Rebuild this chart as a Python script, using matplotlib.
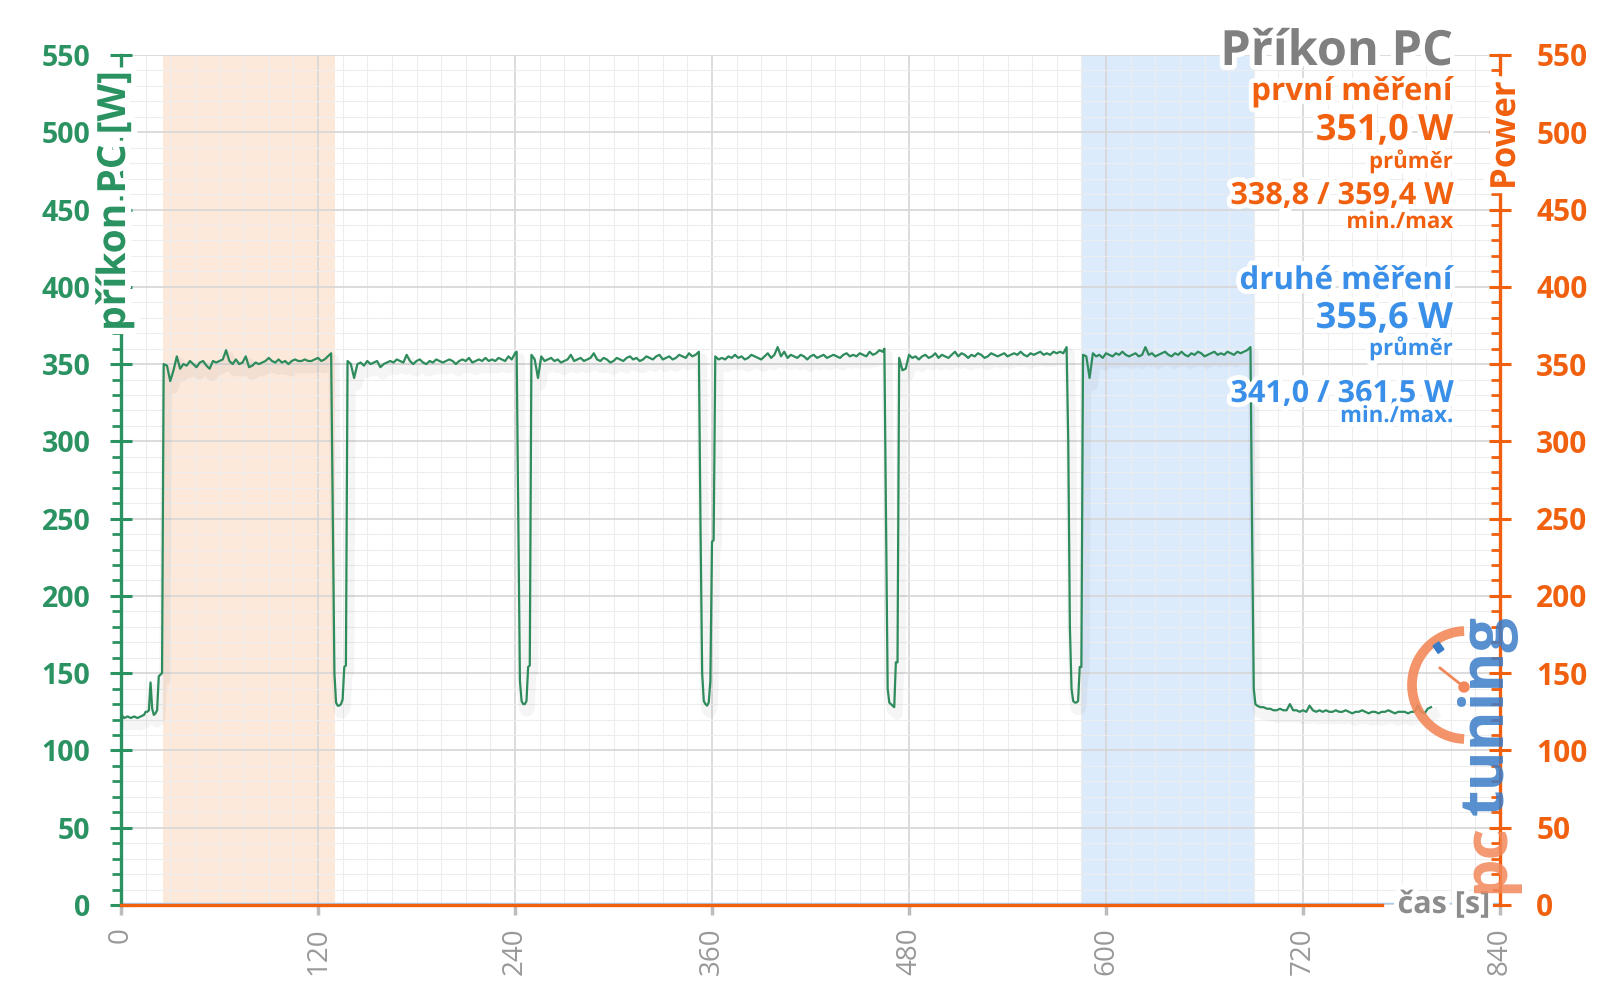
import numpy as np
import matplotlib.pyplot as plt
import matplotlib.patheffects as pe
from matplotlib.ticker import MultipleLocator
from matplotlib.patches import Arc, Circle, Rectangle

plt.rcParams['font.family'] = ['Open Sans', 'DejaVu Sans']

# --- data: power draw of the PC [W] over time [s] ---
# idle before the test
idle0_t = [0, 2, 4, 6, 8, 10, 12, 14, 15, 16, 17, 18, 19, 20, 21, 22, 23, 24, 25]
idle0_p = [123, 121, 122, 121, 122, 121, 122, 123, 125, 125, 126, 144, 127, 123, 124, 126, 148, 149, 150]

# load blocks, one sample every 2 s
block1_start = 26
block1_p = [350, 349, 339, 346, 355, 347, 350, 349, 352, 350,
            348, 351, 352, 349, 347, 352, 351, 352, 353, 359,
            352, 350, 353, 350, 351, 355, 348, 349, 351, 350,
            351, 352, 354, 352, 351, 353, 351, 352, 350, 352,
            353, 352, 352, 353, 352, 352, 353, 354, 352, 353,
            355, 357]
drop1_t = [129, 130, 131, 132, 133, 134, 135, 136, 137]
drop1_p = [250, 150, 131, 129, 129, 130, 133, 154, 155]

block2_start = 138
block2_p = [352, 350, 341, 350, 351, 349, 352, 350, 351, 352,
            348, 350, 351, 352, 351, 353, 352, 351, 356, 352,
            350, 352, 353, 351, 350, 352, 351, 353, 352, 351,
            352, 353, 352, 350, 352, 353, 352, 354, 351, 352,
            353, 352, 354, 352, 353, 352, 354, 353, 352, 355,
            353, 357]
drop2_t = [241, 242, 243, 244, 245, 246, 247, 248, 249]
drop2_p = [358, 250, 145, 132, 130, 130, 132, 154, 155]

block3_start = 250
block3_p = [356, 353, 341, 355, 352, 353, 354, 352, 353, 351,
            352, 353, 356, 352, 353, 354, 352, 353, 354, 357,
            353, 352, 354, 353, 351, 352, 354, 353, 352, 354,
            355, 353, 354, 352, 353, 355, 354, 353, 355, 356,
            353, 354, 355, 353, 354, 356, 355, 354, 357, 355,
            356, 358]
drop3_t = [353, 354, 355, 356, 357, 358, 359, 360, 361]
drop3_p = [245, 150, 132, 130, 129, 131, 145, 235, 236]

block4_start = 362
block4_p = [355, 353, 354, 353, 355, 354, 356, 354, 355, 353,
            354, 356, 355, 354, 353, 355, 357, 354, 356, 361,
            355, 358, 354, 356, 355, 354, 356, 355, 353, 355,
            356, 354, 355, 356, 354, 355, 356, 355, 354, 356,
            357, 355, 356, 355, 357, 356, 355, 358, 356, 357,
            359, 358]
drop4_t = [465, 466, 467, 468, 469, 470, 471, 472, 473]
drop4_p = [360, 250, 140, 131, 130, 129, 128, 157, 157]

block5_start = 474
block5_p = [354, 346, 347, 356, 354, 355, 353, 355, 356, 354,
            355, 357, 354, 356, 355, 354, 356, 358, 355, 357,
            356, 354, 356, 355, 357, 356, 354, 355, 357, 356,
            355, 356, 357, 355, 356, 357, 356, 358, 356, 355,
            357, 356, 357, 358, 356, 357, 356, 358, 357, 358,
            357, 361]
drop5_t = [577, 578, 579, 580, 581, 582, 583, 584, 585]
drop5_p = [300, 180, 140, 132, 131, 131, 132, 154, 154]

block6_start = 586
block6_p = [356, 355, 341, 357, 355, 356, 354, 357, 356, 355,
            357, 356, 358, 356, 355, 356, 357, 355, 356, 361,
            356, 357, 355, 356, 357, 358, 356, 355, 357, 356,
            358, 356, 355, 357, 356, 358, 357, 355, 356, 357,
            358, 356, 357, 356, 358, 357, 356, 358, 357, 358,
            359, 361]
drop6_t = [689, 690, 691]
drop6_p = [240, 140, 130]

# idle after the test, one sample every 2 s
idle1_start = 692
idle1_p = [129, 128, 128, 127, 127, 126, 126, 127, 126, 126,
           130, 126, 126, 125, 126, 125, 129, 126, 125, 126,
           125, 126, 125, 125, 126, 125, 125, 126, 125, 124,
           125, 125, 126, 125, 124, 125, 125, 124, 125, 125,
           126, 125, 124, 125, 125, 125, 124, 125, 125, 129,
           125, 124, 127, 128]

first_span = (25.5, 130.3)
second_span = (585, 690)

x_ticks = [0, 120, 240, 360, 480, 600, 720, 840]

first_lines = ['první měření', '351,0 W', 'průměr', '338,8 / 359,4 W', 'min./max']
second_lines = ['druhé měření', '355,6 W', 'průměr', '341,0 / 361,5 W', 'min./max.']

# --- assemble series ---
def block_t(start, vals, step=2):
    return list(start + step * np.arange(len(vals)))

t = (idle0_t + block_t(block1_start, block1_p) + drop1_t
     + block_t(block2_start, block2_p) + drop2_t
     + block_t(block3_start, block3_p) + drop3_t
     + block_t(block4_start, block4_p) + drop4_t
     + block_t(block5_start, block5_p) + drop5_t
     + block_t(block6_start, block6_p) + drop6_t
     + block_t(idle1_start, idle1_p))
p = (idle0_p + block1_p + drop1_p + block2_p + drop2_p + block3_p + drop3_p
     + block4_p + drop4_p + block5_p + drop5_p + block6_p + drop6_p + idle1_p)

green = '#2b9262'
line_green = '#2e8b5c'
orange = '#f0600f'
blue = '#3a8fe8'
gray = '#808080'

W, H = 1600, 999
fig = plt.figure(figsize=(16, 9.99), dpi=100)
ax = fig.add_axes([121 / W, 1 - 905 / H, (1500 - 121) / W, (905 - 55) / H])
ax.set_xlim(0, 840)
ax.set_ylim(0, 550)

ax.axvspan(*first_span, color='#fde9da', zorder=0.2, lw=0)
ax.axvspan(*second_span, color='#dcebfc', zorder=0.2, lw=0)

ax.xaxis.set_major_locator(MultipleLocator(120))
ax.xaxis.set_minor_locator(MultipleLocator(15))
ax.yaxis.set_major_locator(MultipleLocator(50))
ax.yaxis.set_minor_locator(MultipleLocator(10))
ax.set_axisbelow(True)
ax.grid(which='major', color='#d6d6d6', lw=1.2)
ax.grid(which='minor', color='#ededed', lw=0.8)

ax.plot(t, p, color=line_green, lw=1.6, zorder=3,
        path_effects=[pe.SimpleLineShadow(offset=(2, -5), shadow_color='k', alpha=0.04, linewidth=8),
                      pe.Normal()])

# bottom lines
ax.plot([0, 840], [1.4, 1.4], color='#a9cbef', lw=1, zorder=2.5, clip_on=False)
ax.plot([0, 768], [0, 0], color=orange, lw=2.4, zorder=2.6, clip_on=False)

for s in ['top', 'bottom', 'right']:
    ax.spines[s].set_visible(False)
ax.spines['left'].set_color(green)
ax.spines['left'].set_linewidth(2.4)

ax.set_xticks(x_ticks)
ax.set_xticklabels([str(v) for v in x_ticks], rotation=90, color='#999999', fontsize=20)
ax.tick_params(axis='x', which='major', direction='out', length=7, width=2.5,
               color='#bdbdbd', pad=9)
ax.tick_params(axis='x', which='minor', length=0)
ax.tick_params(axis='y', which='major', direction='inout', length=16, width=2.2,
               color=green, labelcolor=green, labelsize=20.5, pad=14)
ax.tick_params(axis='y', which='minor', direction='out', length=6.5, width=2,
               color=green)
for lab in ax.get_yticklabels():
    lab.set_fontweight('bold')

ax2 = ax.twinx()
ax2.set_ylim(0, 550)
ax2.yaxis.set_major_locator(MultipleLocator(50))
ax2.yaxis.set_minor_locator(MultipleLocator(10))
for s in ['top', 'bottom', 'left']:
    ax2.spines[s].set_visible(False)
ax2.spines['right'].set_color(orange)
ax2.spines['right'].set_linewidth(2.4)
ax2.tick_params(axis='y', which='major', direction='inout', length=16, width=2.2,
                color=orange, labelcolor=orange, labelsize=21.5, pad=18)
ax2.tick_params(axis='y', which='minor', direction='in', length=6.5, width=2,
                color=orange)
for lab in ax2.get_yticklabels():
    lab.set_fontweight('bold')

# --- overlay in pixel coordinates for texts and logo ---
ov = fig.add_axes([0, 0, 1, 1], zorder=5)
ov.set_xlim(0, W)
ov.set_ylim(H, 0)
ov.axis('off')

glow = [pe.withStroke(linewidth=7, foreground='white')]

ov.text(125, 201, 'příkon PC [W]', rotation=90, rotation_mode='anchor',
        ha='center', va='baseline', color=green, fontsize=28, fontweight='bold',
        path_effects=[pe.withStroke(linewidth=9, foreground='white')])
ov.text(1515, 190, 'Power', rotation=90, rotation_mode='anchor',
        ha='left', va='baseline', color=orange, fontsize=25, fontweight='bold',
        path_effects=[pe.withStroke(linewidth=9, foreground='white')])
ov.text(1490, 913, 'čas [s]', ha='right', va='baseline', color='#8c8c8c',
        fontsize=22, fontweight='bold', path_effects=glow)

ov.text(1453, 65, 'Příkon PC', ha='right', va='baseline', color=gray,
        fontsize=35, fontweight='bold', path_effects=glow)

sizes = [22.5, 26, 16, 22, 16]
first_y = [100, 140, 168, 204, 228]
second_y = [289, 328, 355, 402, 422]
for txt, yy, fs in zip(first_lines, first_y, sizes):
    ov.text(1453, yy, txt, ha='right', va='baseline', color=orange,
            fontsize=fs, fontweight='bold', path_effects=glow)
for txt, yy, fs in zip(second_lines, second_y, sizes):
    ov.text(1453, yy, txt, ha='right', va='baseline', color=blue,
            fontsize=fs, fontweight='bold', path_effects=glow)

# pctuning logo
logo_orange = '#f2885a'
logo_blue = '#3a7cc8'
ov.add_patch(Arc((1466, 685), 108, 108, theta1=92, theta2=268, color=logo_orange,
                 lw=7, alpha=0.9))
ov.plot([1440, 1464], [668, 687], color=logo_orange, lw=2)
ov.add_patch(Circle((1464, 687), 5, color=logo_orange))
ov.add_patch(Rectangle((1433, 646), 7, 9, angle=-35, color=logo_blue))
ov.text(1503, 893, 'pc', rotation=90, rotation_mode='anchor', ha='left',
        va='baseline', color=logo_orange, fontsize=44, fontweight='bold', alpha=0.85)
ov.text(1503, 815, 'tuning', rotation=90, rotation_mode='anchor', ha='left',
        va='baseline', color=logo_blue, fontsize=44, fontweight='bold', alpha=0.85)

fig.savefig('out.png', dpi=100, facecolor='white')
